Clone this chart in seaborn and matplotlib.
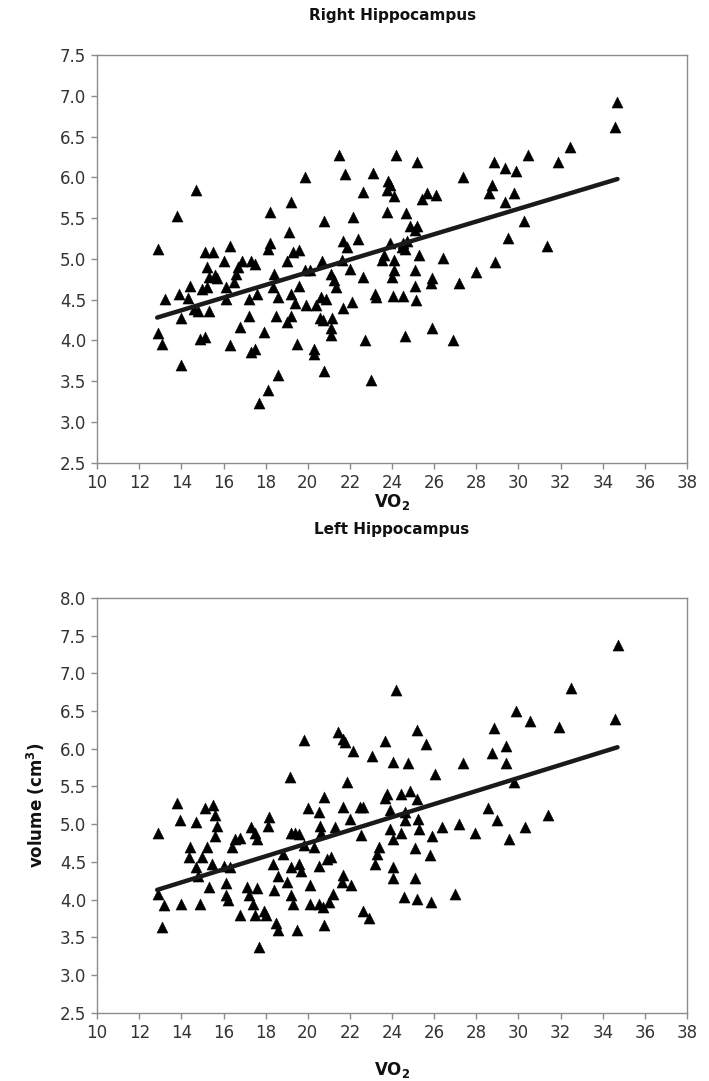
import matplotlib
matplotlib.use("Agg")
import matplotlib.pyplot as plt
import seaborn as sns
import pandas as pd

# ---------------- data ----------------
right_vo2 = [12.9, 13.2, 12.9, 13.1, 13.8, 14.7, 14.0, 13.9, 14.0, 14.4, 14.3, 14.8, 14.6,
             15.1, 15.5, 15.2, 15.3, 15.6, 15.7, 15.0, 15.2, 14.9, 15.1, 15.3, 16.0, 16.3,
             16.1, 16.1, 16.5, 16.6, 16.7, 16.9, 17.3, 17.5, 16.3, 16.8, 17.2, 17.2, 17.3,
             17.5, 17.6, 17.9, 17.7, 18.1, 18.6, 18.2, 18.1, 18.2, 18.4, 18.35, 18.6, 18.5,
             19.0, 19.2, 19.2, 19.1, 19.0, 19.3, 19.6, 19.2, 19.4, 19.6, 19.5, 19.85, 19.9,
             19.85, 20.1, 20.66, 20.78, 20.39, 20.63, 20.86, 20.6, 20.7, 21.17, 21.1, 21.1,
             20.3, 20.3, 20.78, 21.1, 21.25, 21.33, 21.49, 21.77, 21.6, 21.69, 21.88, 22.0,
             22.16, 22.4, 22.6, 22.6, 21.69, 22.1, 22.7, 22.98, 23.09, 23.2, 23.25, 23.5,
             23.6, 23.76, 23.8, 23.9, 23.75, 24.07, 23.9, 24.07, 24.07, 24.0, 24.2, 24.04,
             24.5, 24.59, 24.67, 24.5, 24.45, 24.7, 24.85, 25.1, 25.2, 24.6, 25.09, 25.09,
             25.12, 25.28, 25.17, 25.4, 25.64, 26.08, 25.9, 25.85, 25.9, 26.4, 27.2, 26.9,
             27.36, 27.99, 28.85, 28.74, 28.59, 28.9, 29.37, 29.87, 30.47, 31.88, 32.46,
             34.7, 34.58, 29.8, 29.37, 30.27, 29.48, 31.36]
right_vol = [5.12, 4.51, 4.09, 3.96, 5.53, 5.84, 3.70, 4.57, 4.28, 4.67, 4.52, 4.36, 4.38,
             5.09, 5.09, 4.90, 4.78, 4.80, 4.76, 4.63, 4.65, 4.02, 4.04, 4.36, 4.97, 5.16,
             4.65, 4.51, 4.72, 4.82, 4.90, 4.97, 4.97, 4.94, 3.94, 4.17, 4.30, 4.51, 3.86,
             3.90, 4.57, 4.10, 3.23, 3.39, 3.58, 5.58, 5.12, 5.20, 4.82, 4.65, 4.53, 4.30,
             4.23, 4.30, 5.70, 5.33, 4.97, 5.09, 5.11, 4.57, 4.46, 4.67, 3.95, 6.01, 4.44,
             4.86, 4.86, 4.97, 5.47, 4.44, 4.53, 4.51, 4.27, 4.25, 4.28, 4.15, 4.07,
             3.90, 3.83, 3.63, 4.82, 4.74, 4.65, 6.27, 6.04, 4.99, 5.22, 5.14, 4.88,
             5.51, 5.24, 5.82, 4.78, 4.40, 4.47, 4.00, 3.52, 6.06, 4.57, 4.53, 4.99,
             5.05, 5.58, 5.96, 5.91, 5.85, 5.77, 5.20, 4.99, 4.86, 4.78, 6.27, 4.55,
             4.55, 4.05, 5.56, 5.20, 5.15, 5.22, 5.40, 5.36, 5.40, 5.12, 4.86, 4.67,
             4.49, 5.05, 6.19, 5.74, 5.81, 5.79, 4.76, 4.70, 4.15, 5.01, 4.70, 4.00,
             6.00, 4.84, 6.19, 5.91, 5.81, 4.96, 6.12, 6.08, 6.27, 6.19, 6.37,
             6.92, 6.62, 5.81, 5.70, 5.47, 5.26, 5.16]

left_vo2 = [12.9, 12.9, 13.18, 13.07, 13.8, 13.92, 13.97, 14.39, 14.36, 14.7, 14.86, 14.7,
            15.14, 15.5, 15.2, 14.98, 15.6, 15.7, 15.6, 15.3, 15.45, 14.8, 16.1, 16.1, 16.2,
            16.0, 16.4, 16.55, 16.8, 16.3, 16.8, 17.1, 17.2, 17.3, 17.5, 17.6, 17.4, 17.5,
            17.6, 17.9, 18.0, 17.7, 18.15, 18.12, 18.35, 18.4, 18.6, 18.5, 18.6, 19.0, 19.2,
            19.3, 19.17, 19.2, 19.4, 19.6, 19.2, 19.6, 19.7, 18.8, 19.5, 19.84, 20.0, 20.1,
            20.1, 19.8, 20.3, 20.55, 20.76, 20.6, 20.62, 21.27, 20.55, 20.9, 21.1, 20.55,
            20.7, 21.0, 21.2, 20.76, 21.43, 21.67, 21.78, 22.14, 21.87, 21.67, 21.98, 22.46,
            22.62, 22.54, 21.67, 21.6, 22.06, 22.6, 22.9, 23.05, 23.65, 24.05, 24.2, 23.65,
            23.78, 23.9, 23.2, 23.4, 23.3, 23.9, 24.05, 24.05, 24.05, 24.44, 24.6, 24.84,
            25.16, 24.76, 25.16, 25.63, 25.24, 25.3, 24.6, 24.44, 25.08, 25.08, 24.57, 25.16,
            25.87, 25.8, 25.9, 26.06, 26.38, 26.98, 27.17, 27.38, 27.94, 28.57, 28.97, 28.86,
            28.76, 29.4, 29.4, 29.9, 30.54, 29.8, 29.53, 30.3, 31.4, 31.92, 32.5, 34.73, 34.6]
left_vol = [4.89, 4.08, 3.93, 3.64, 5.28, 5.05, 3.94, 4.70, 4.57, 5.03, 3.94, 4.43,
            5.21, 5.26, 4.70, 4.57, 5.12, 4.98, 4.84, 4.17, 4.47, 4.31, 4.22, 4.06, 3.99,
            4.45, 4.70, 4.80, 4.82, 4.43, 3.80, 4.17, 4.06, 4.96, 4.89, 4.80, 3.94, 3.80,
            4.16, 3.85, 3.80, 3.37, 5.10, 4.98, 4.47, 4.13, 4.31, 3.69, 3.60, 4.24, 4.06,
            3.94, 5.63, 4.89, 4.89, 4.87, 4.43, 4.47, 4.38, 4.60, 3.60, 6.11, 5.21, 4.20,
            3.94, 4.73, 4.70, 5.16, 5.36, 4.98, 4.89, 4.96, 4.45, 4.54, 4.57, 3.94,
            3.90, 3.97, 4.08, 3.67, 6.22, 6.13, 6.09, 5.97, 5.56, 5.23, 5.07, 5.23,
            5.23, 4.86, 4.33, 4.24, 4.20, 3.85, 3.76, 5.90, 6.10, 5.83, 6.78, 5.35,
            5.40, 5.19, 4.47, 4.70, 4.61, 4.93, 4.80, 4.43, 4.29, 5.40, 5.16, 5.44,
            5.33, 5.81, 6.25, 6.06, 5.07, 4.93, 5.05, 4.89, 4.68, 4.29, 4.03, 4.01,
            3.97, 4.59, 4.84, 5.67, 4.96, 4.08, 5.00, 5.81, 4.89, 5.21, 5.05, 6.27,
            5.95, 6.04, 5.81, 6.50, 6.37, 5.56, 4.80, 4.96, 5.12, 6.29, 6.81, 7.38, 6.39]

# fitted trend lines (end points)
trend_vo2 = [12.85, 34.7]
right_trend = [4.28, 5.98]
left_trend = [4.13, 6.02]

x_ticks = [10, 12, 14, 16, 18, 20, 22, 24, 26, 28, 30, 32, 34, 36, 38]
right_yticks = [2.5, 3.0, 3.5, 4.0, 4.5, 5.0, 5.5, 6.0, 6.5, 7.0, 7.5]
left_yticks = [2.5, 3.0, 3.5, 4.0, 4.5, 5.0, 5.5, 6.0, 6.5, 7.0, 7.5, 8.0]

# ---------------- figure ----------------
sns.set_theme(style="white")
plt.rcParams["font.family"] = ["DejaVu Sans"]
plt.rcParams["mathtext.fontset"] = "dejavusans"

fig = plt.figure(figsize=(7.09, 10.81), dpi=100)
ax1 = fig.add_axes([0.137, 0.572, 0.832, 0.377])
ax2 = fig.add_axes([0.137, 0.063, 0.832, 0.384])

spine_col = "#8c8c8c"
txt_col = "#333333"


def draw(ax, xs, ys, trend_y, yticks, title, title_pad, xlabel_pad):
    df = pd.DataFrame({"vo2": xs, "vol": ys})
    sns.scatterplot(data=df, x="vo2", y="vol", ax=ax, marker="^", s=64,
                    color="black", edgecolor="black", linewidth=0.3, zorder=3)
    tdf = pd.DataFrame({"vo2": trend_vo2, "vol": trend_y})
    sns.lineplot(data=tdf, x="vo2", y="vol", ax=ax, color="#1a1a1a",
                 linewidth=3.2, zorder=4)
    ax.set_xlim(10, 38)
    ax.set_ylim(yticks[0], yticks[-1])
    ax.set_xticks(x_ticks)
    ax.set_yticks(yticks)
    ax.set_yticklabels([f"{v:.1f}" for v in yticks])
    ax.tick_params(axis="both", direction="out", length=4, width=1,
                   color=spine_col, labelsize=12, labelcolor=txt_col,
                   left=True, bottom=True, pad=4)
    for sp in ax.spines.values():
        sp.set_color(spine_col)
        sp.set_linewidth(1.0)
        sp.set_visible(True)
    ax.set_title(title, fontsize=11, fontweight="bold", color="#111111", pad=title_pad)
    ax.set_xlabel(r"$\mathbf{VO_2}$", fontsize=12, color="#111111", labelpad=xlabel_pad)
    ax.set_ylabel("")


draw(ax1, right_vo2, right_vol, right_trend, right_yticks, "Right Hippocampus", 25, 0)
draw(ax2, left_vo2, left_vol, left_trend, left_yticks, "Left Hippocampus", 46, 13)
ax2.set_ylabel(r"$\mathbf{volume\ (cm^3)}$", fontsize=12, color="#111111", labelpad=9)

fig.savefig("out.png", dpi=100, facecolor="white")
